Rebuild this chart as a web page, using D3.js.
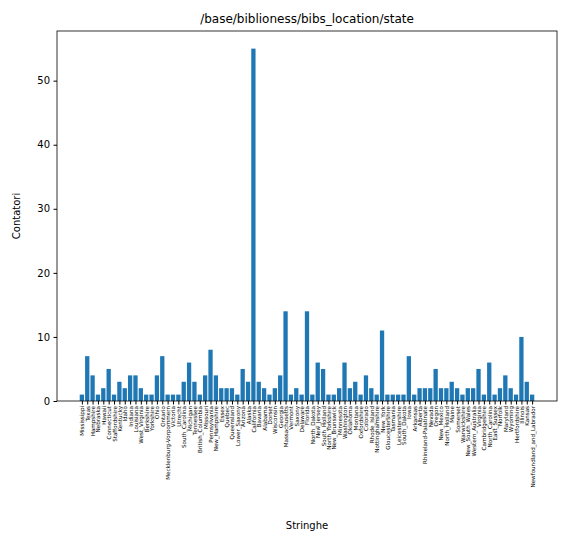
<!DOCTYPE html>
<html>
<head>
<meta charset="utf-8">
<script src="https://cdn.jsdelivr.net/npm/d3@7"></script>
<style>
  body { margin: 0; background: #fff; }
  text { font-family: "DejaVu Sans", sans-serif; fill: #000; }
</style>
</head>
<body>
<script>
const states = ["Mississippi", "Texas", "Hampshire", "Nebraska", "Hawaii", "Connecticut",
  "Staffordshire", "Kentucky", "Idaho", "Indiana", "Louisiana", "West_Virginia", "Berkshire",
  "Yorkshire", "Ohio", "Ontario", "Mecklenburg-Vorpommern", "Victoria", "Utrecht",
  "South_Carolina", "Michigan", "Tennessee", "British_Columbia", "Missouri", "Pennsylvania",
  "New_Hampshire", "Essex", "Quebec", "Queensland", "Lower_Saxony", "Arizona", "Alaska",
  "California", "Bavaria", "Alabama", "Dorset", "Wisconsin", "Georgia", "Massachusetts",
  "Vermont", "Saxony", "Delaware", "Florida", "North_Dakota", "New_Jersey", "South_Holland",
  "North_Yorkshire", "New_Brunswick", "Minnesota", "Washington", "Oklahoma", "Montana",
  "Oxfordshire", "Colorado", "Rhode_Island", "Nottinghamshire", "New_York", "Gloucestershire",
  "Tasmania", "Leicestershire", "South_Dakota", "Iowa", "Arkansas", "Alberta",
  "Rhineland-Palatinate", "Nevada", "Oregon", "New_Mexico", "North_Holland", "Maine",
  "Somerset", "Warwickshire", "New_South_Wales", "Western_Australia", "Virginia",
  "Cambridgeshire", "North_Carolina", "East_Sussex", "Norfolk", "Maryland", "Wyoming",
  "Hertfordshire", "Illinois", "Kansas", "Newfoundland_and_Labrador"];

const counts = [1, 7, 4, 1, 2, 5, 1, 3, 2, 4, 4, 2, 1, 1, 4, 7, 1, 1, 1, 3, 6, 3,
  1, 4, 8, 4, 2, 2, 2, 1, 5, 3, 55, 3, 2, 1, 2, 4, 14, 1, 2, 1, 14,
  1, 6, 5, 1, 1, 2, 6, 2, 3, 1, 4, 2, 1, 11, 1, 1, 1, 1, 7, 1, 2, 2,
  2, 5, 2, 2, 3, 2, 1, 2, 2, 5, 1, 6, 1, 2, 4, 2, 1, 10, 3, 1];

const yTicks = [0, 10, 20, 30, 40, 50];

const width = 562, height = 542;
const mLeft = 57, mRight = 557, mTop = 31, mBottom = 401;

const svg = d3.select("body").append("svg")
  .attr("width", width).attr("height", height);

// matplotlib-like margins: 5% padding on each side of the category range
const n = states.length;
const xLin = d3.scaleLinear()
  .domain([-0.4 - 0.05 * (n - 0.2), n - 1 + 0.4 + 0.05 * (n - 0.2)])
  .range([mLeft, mRight]);
const y = d3.scaleLinear().domain([0, 55 * 1.05]).range([mBottom, mTop]);

svg.selectAll("rect.bar")
  .data(counts)
  .enter().append("rect")
  .attr("class", "bar")
  .attr("x", (d, i) => xLin(i - 0.4))
  .attr("width", xLin(0.8) - xLin(0))
  .attr("y", d => y(d))
  .attr("height", d => y(0) - y(d))
  .attr("fill", "#1f77b4");

const xAxis = svg.append("g")
  .attr("transform", "translate(0," + mBottom + ")")
  .call(d3.axisBottom(xLin).tickValues(d3.range(n)).tickFormat(i => states[i]).tickSizeOuter(0).tickSize(3.5));
xAxis.select(".domain").remove();
xAxis.selectAll("text")
  .attr("transform", "rotate(-90)")
  .attr("x", -5).attr("y", 0).attr("dy", "0.35em")
  .style("text-anchor", "end")
  .style("font-size", "5.6px");

const yAxis = svg.append("g")
  .attr("transform", "translate(" + mLeft + ",0)")
  .call(d3.axisLeft(y).tickValues(yTicks).tickSizeOuter(0).tickSize(3.5).tickPadding(3.5));
yAxis.select(".domain").remove();
yAxis.selectAll("text").style("font-size", "10px");

svg.append("rect")
  .attr("x", mLeft).attr("y", mTop)
  .attr("width", mRight - mLeft).attr("height", mBottom - mTop)
  .attr("fill", "none").attr("stroke", "#000").attr("stroke-width", 0.8);

svg.append("text")
  .attr("x", (mLeft + mRight) / 2).attr("y", 23)
  .attr("text-anchor", "middle").style("font-size", "12px")
  .text("/base/biblioness/bibs_location/state");

svg.append("text")
  .attr("x", (mLeft + mRight) / 2).attr("y", 529)
  .attr("text-anchor", "middle").style("font-size", "10px")
  .text("Stringhe");

svg.append("text")
  .attr("transform", "translate(20," + (mTop + mBottom) / 2 + ") rotate(-90)")
  .attr("text-anchor", "middle").style("font-size", "10px")
  .text("Contatori");
</script>
</body>
</html>
